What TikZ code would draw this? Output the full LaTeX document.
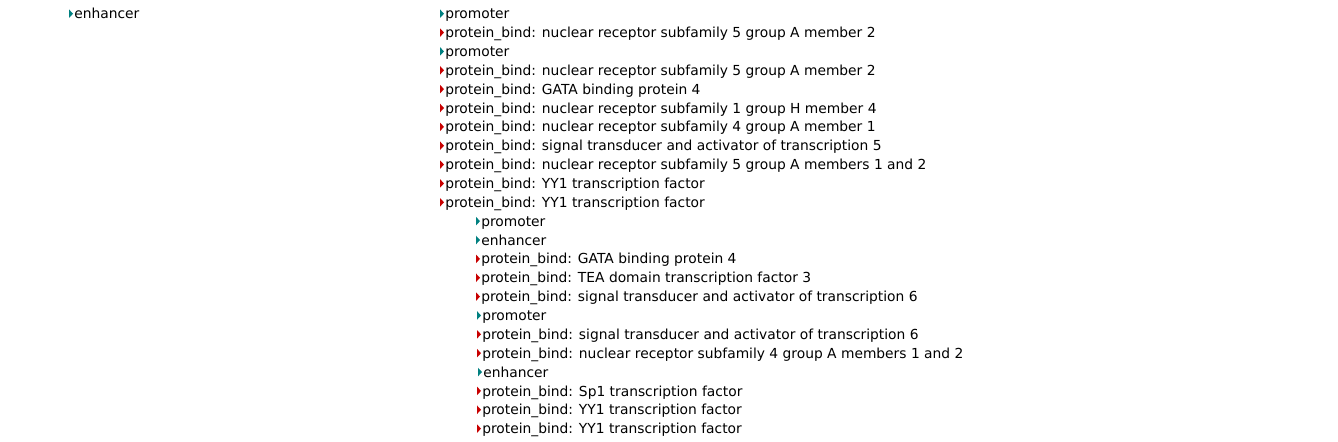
\documentclass[tikz,border=0pt]{standalone}
\usepackage{fontspec}
\setmainfont{DejaVu Sans}
\definecolor{regteal}{RGB}{0,128,128}
\definecolor{bindred}{RGB}{200,0,0}

% one feature: marker colour, x of marker, row centre, node name, text
\newcommand{\feat}[5]{%
  \fill[#1] (#2,#3-3.6) -- (#2+4,#3+0.7) -- (#2,#3+5) -- cycle;
  \node[feattext] (#4) at (#2+5,#3+5.8) {#5};}

\begin{document}
\begin{tikzpicture}[x=0.72pt, y=-0.72pt,
  feattext/.style={anchor=base west, inner sep=0pt, font=\fontsize{9.95}{12}\selectfont}]
  % Frame
  \useasboundingbox (0,0) rectangle (1338,442);

  % Left column
  \feat{regteal}{69}{13}{enh1}{enhancer}

  % Middle column
  \feat{regteal}{440}{13}{prom1}{promoter}
  \feat{bindred}{440}{31.86}{bindA}{protein\_bind: nuclear receptor subfamily 5 group A member 2}
  \feat{regteal}{440}{50.72}{prom2}{promoter}
  \feat{bindred}{440}{69.58}{bindB}{protein\_bind: nuclear receptor subfamily 5 group A member 2}
  \feat{bindred}{440}{88.44}{bindC}{protein\_bind: GATA binding protein 4}
  \feat{bindred}{440}{107.3}{bindD}{protein\_bind: nuclear receptor subfamily 1 group H member 4}
  \feat{bindred}{440}{126.16}{bindE}{protein\_bind: nuclear receptor subfamily 4 group A member 1}
  \feat{bindred}{440}{145.02}{bindF}{protein\_bind: signal transducer and activator of transcription 5}
  \feat{bindred}{440}{163.88}{bindG}{protein\_bind: nuclear receptor subfamily 5 group A members 1 and 2}
  \feat{bindred}{440}{182.74}{bindH}{protein\_bind: YY1 transcription factor}
  \feat{bindred}{440}{201.6}{bindI}{protein\_bind: YY1 transcription factor}

  % Right column
  \feat{regteal}{476}{220.46}{prom3}{promoter}
  \feat{regteal}{476}{239.32}{enh2}{enhancer}
  \feat{bindred}{476}{258.18}{bindJ}{protein\_bind: GATA binding protein 4}
  \feat{bindred}{476}{277.04}{bindK}{protein\_bind: TEA domain transcription factor 3}
  \feat{bindred}{476}{295.9}{bindL}{protein\_bind: signal transducer and activator of transcription 6}
  \feat{regteal}{477}{314.76}{prom4}{promoter}
  \feat{bindred}{477}{333.62}{bindM}{protein\_bind: signal transducer and activator of transcription 6}
  \feat{bindred}{477}{352.48}{bindN}{protein\_bind: nuclear receptor subfamily 4 group A members 1 and 2}
  \feat{regteal}{478}{371.34}{enh3}{enhancer}
  \feat{bindred}{477}{390.2}{bindO}{protein\_bind: Sp1 transcription factor}
  \feat{bindred}{477}{409.06}{bindP}{protein\_bind: YY1 transcription factor}
  \feat{bindred}{477}{427.92}{bindQ}{protein\_bind: YY1 transcription factor}
\end{tikzpicture}
\end{document}
